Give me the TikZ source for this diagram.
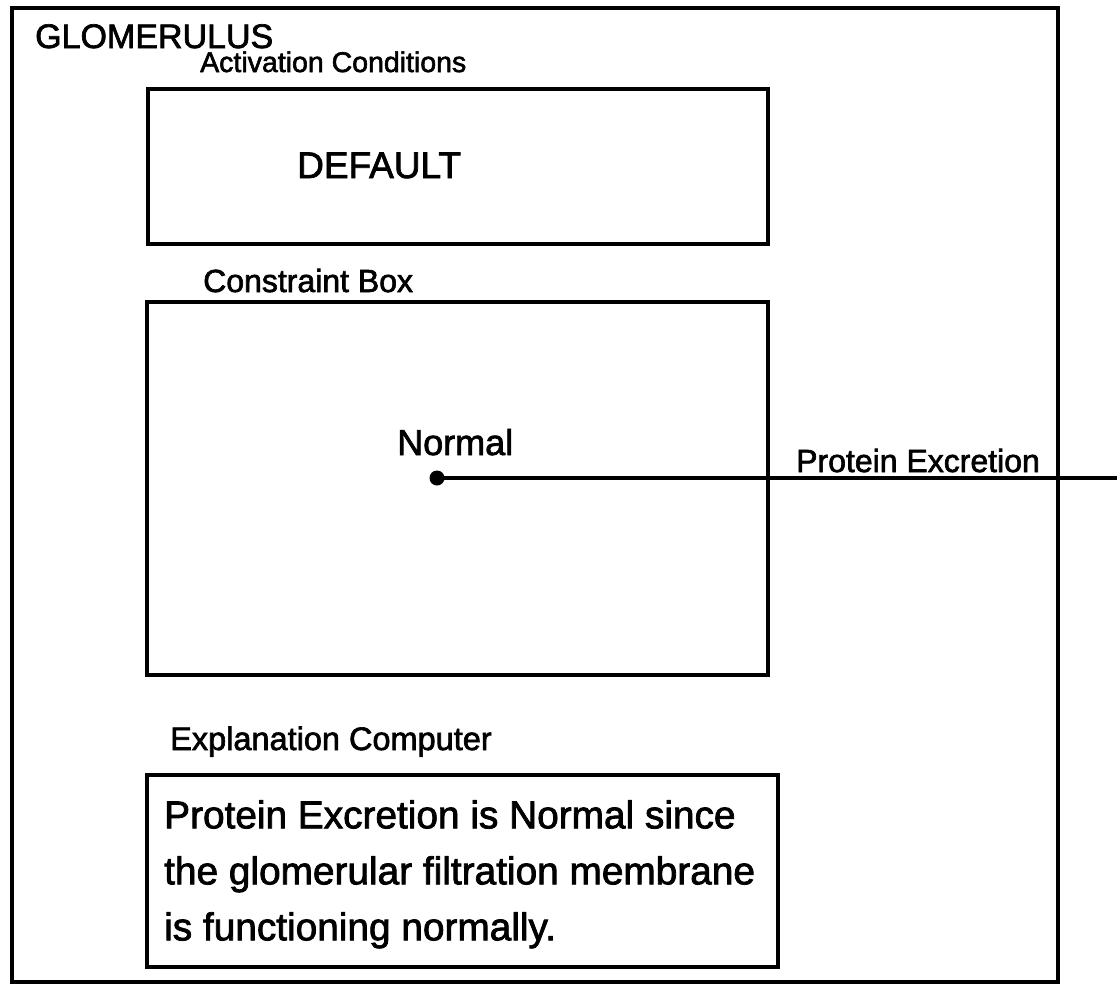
\documentclass[tikz,border=0pt]{standalone}
\usepackage{fontspec}
\setmainfont{Liberation Sans}[RawFeature={embolden=2}]
\begin{document}
\begin{tikzpicture}[x=1pt,y=-1pt,
  frame/.style={draw, line width=4pt, inner sep=0pt, outer sep=0pt, anchor=north west},
  lbl/.style={anchor=base west, inner sep=0pt, font=\fontsize{32}{32}\selectfont},
  big/.style={anchor=base west, inner sep=0pt, font=\fontsize{36}{36}\selectfont}]
\useasboundingbox (0,0) rectangle (1120,985);
% outer frame and boxes
\node[frame, minimum width=1046, minimum height=974] (outer) at (12,8) {};
\node[frame, minimum width=620, minimum height=155] (act) at (148,89) {};
\node[frame, minimum width=621, minimum height=373] (con) at (147,302) {};
\node[frame, minimum width=631, minimum height=192] (expl) at (147,775) {};
% labels
\node[big, font=\fontsize{34}{34}\selectfont] (glom) at (35,48) {GLOMERULUS};
\node[lbl, font=\fontsize{28.5}{28.5}\selectfont] (actlbl) at (200,72) {Activation Conditions};
\node[big, font=\fontsize{37}{37}\selectfont] (default) at (297,178) {DEFAULT};
\node[lbl] (conlbl) at (203,292) {Constraint Box};
\node[big] (normal) at (397,455) {Normal};
\node[lbl, font=\fontsize{32}{32}\selectfont] (pe) at (796,472) {Protein Excretion};
\node[lbl, font=\fontsize{32.5}{32.5}\selectfont] (explbl) at (170,750) {Explanation Computer};
\node[anchor=north west, inner sep=0pt, align=left, font=\fontsize{38.8}{56}\selectfont] (expltxt) at (164,800)
  {Protein Excretion is Normal since\\the glomerular filtration membrane\\is functioning normally.};
% connector
\node[circle, fill, minimum size=15pt, inner sep=0pt] (dot) at (437,478) {};
\coordinate (lineend) at (1117,478);
\draw[line width=4.5pt] (dot.center) -- (lineend);
\end{tikzpicture}
\end{document}
